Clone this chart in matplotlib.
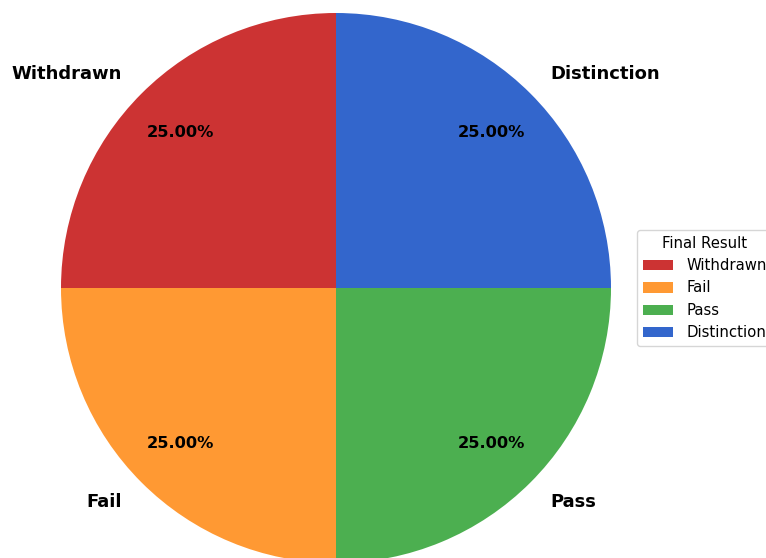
import matplotlib.pyplot as plt

results = ["Withdrawn", "Fail", "Pass", "Distinction"]
counts = [1, 1, 1, 1]
colors = ["#cc3333", "#ff9933", "#4caf50", "#3366cc"]

fig = plt.figure(figsize=(7.66, 5.58), dpi=100)
ax = fig.add_axes([0, 0, 1, 1])

wedges, texts, autotexts = ax.pie(
    counts, labels=results, colors=colors, autopct="%.2f%%",
    startangle=90, counterclock=True, pctdistance=0.8, labeldistance=1.1,
    textprops=dict(fontsize=13, fontweight="bold"))
for t in autotexts:
    t.set_fontsize(11.7)

# pie centred at (336, 288) px with a 275 px radius
ax.set_xlim(-336 / 275, (766 - 336) / 275)
ax.set_ylim((288 - 558) / 275, 288 / 275)
ax.set_aspect("auto")
ax.axis("off")

fig.legend(wedges, results, title="Final Result", loc="center left",
           bbox_to_anchor=(637 / 766, 1 - 288 / 558), borderaxespad=0,
           fontsize=10.7, title_fontsize=10.7, handletextpad=0.9)

fig.savefig("out.png", dpi=100)
